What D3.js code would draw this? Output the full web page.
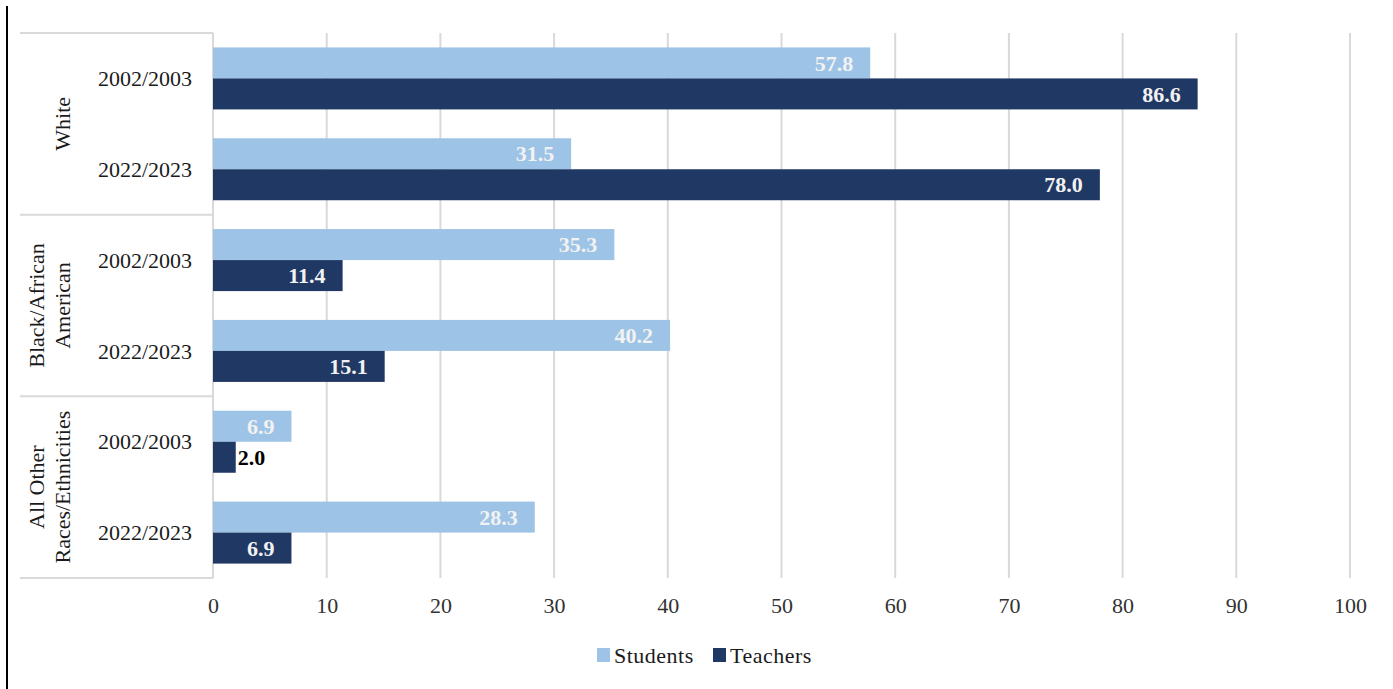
<!DOCTYPE html>
<html>
<head>
<meta charset="utf-8">
<script src="https://cdn.jsdelivr.net/npm/d3@7"></script>
<style>
  html, body { margin: 0; padding: 0; background: #fff; }
  svg { display: block; font-family: "Liberation Serif", "Times New Roman", serif; }
</style>
</head>
<body>
<svg id="chart" width="1393" height="689"></svg>
<script>
// Share of students and teachers by race/ethnicity, two school years
const groups = ["White", "Black/African American", "All Other Races/Ethnicities"];
const groupLines = [["White"], ["Black/African", "American"], ["All Other", "Races/Ethnicities"]];
const years = ["2002/2003", "2022/2023"];
const series = ["Students", "Teachers"];
const students = [57.8, 31.5, 35.3, 40.2, 6.9, 28.3];
const teachers = [86.6, 78.0, 11.4, 15.1, 2.0, 6.9];
const xTicks = [0, 10, 20, 30, 40, 50, 60, 70, 80, 90, 100];

const colors = { Students: "#9dc3e6", Teachers: "#203864" };
const serifFont = "'Liberation Serif', 'Times New Roman', serif";

const svg = d3.select("#chart");
const plotLeft = 213, plotRight = 1350, plotTop = 33, plotBottom = 578, boxLeft = 20;

const x = d3.scaleLinear().domain([0, 100]).range([plotLeft, plotRight]);

// rows: one per group/year pair
const rows = [];
groups.forEach((g, gi) => years.forEach((yr, yi) => {
  const i = gi * years.length + yi;
  rows.push({ id: g + "|" + yr, group: g, gi, year: yr, Students: students[i], Teachers: teachers[i] });
}));

const yRow = d3.scaleBand().domain(rows.map(r => r.id)).range([plotTop, plotBottom]);
const yGroup = d3.scaleBand().domain(groups).range([plotTop, plotBottom]);
const ySeries = d3.scaleBand().domain(series).range([0, yRow.bandwidth()]).paddingInner(0).paddingOuter(0.465);

// vertical gridlines
svg.append("g").selectAll("line").data(xTicks).join("line")
  .attr("x1", d => x(d)).attr("x2", d => x(d))
  .attr("y1", plotTop).attr("y2", plotBottom)
  .attr("stroke", "#d9d9d9").attr("stroke-width", 2);

// category box separators
const seps = [plotTop].concat(groups.map(g => yGroup(g) + yGroup.bandwidth()));
svg.append("g").selectAll("line").data(seps).join("line")
  .attr("x1", boxLeft).attr("x2", plotLeft)
  .attr("y1", d => d).attr("y2", d => d)
  .attr("stroke", "#d9d9d9").attr("stroke-width", 2);

// bars with value labels
const barG = svg.append("g");
rows.forEach(r => {
  series.forEach(s => {
    const y0 = yRow(r.id) + ySeries(s);
    const v = r[s];
    barG.append("rect")
      .attr("x", x(0)).attr("y", y0)
      .attr("width", x(v) - x(0)).attr("height", ySeries.bandwidth())
      .attr("fill", colors[s]);
    const inside = x(v) - x(0) > 50;
    barG.append("text")
      .attr("x", inside ? x(v) - 17 : x(v) + 2)
      .attr("y", y0 + ySeries.bandwidth() / 2)
      .attr("dy", "0.35em")
      .attr("text-anchor", inside ? "end" : "start")
      .style("font-family", serifFont)
      .attr("font-size", 22).attr("font-weight", "bold")
      .attr("fill", inside ? "#f2f2f2" : "#000")
      .text(v.toFixed(1));
  });
});

// year labels
svg.append("g").selectAll("text").data(rows).join("text")
  .attr("x", 192)
  .attr("y", r => yRow(r.id) + yRow.bandwidth() / 2)
  .attr("dy", "0.35em")
  .attr("text-anchor", "end")
  .style("font-family", serifFont)
  .attr("font-size", 22).attr("fill", "#1a1a1a")
  .text(r => r.year);

// group labels, rotated
groups.forEach((g, gi) => {
  const lines = groupLines[gi];
  const cy = yGroup(g) + yGroup.bandwidth() / 2;
  lines.forEach((ln, li) => {
    const cx = 62 - (lines.length - 1 - li) * 26;
    svg.append("text")
      .attr("transform", `translate(${cx},${cy}) rotate(-90)`)
      .attr("text-anchor", "middle").attr("dy", "0.35em")
      .style("font-family", serifFont)
      .attr("font-size", 22).attr("fill", "#1a1a1a")
      .text(ln);
  });
});

// x axis tick labels
const xAxis = d3.axisBottom(x).tickValues(xTicks).tickSize(0).tickPadding(0);
const axG = svg.append("g").attr("transform", `translate(0,${plotBottom})`).call(xAxis);
axG.select(".domain").remove();
axG.selectAll("text")
  .attr("y", 35).attr("dy", 0)
  .style("font-family", serifFont)
  .attr("font-size", 22).attr("fill", "#333");

// legend
const legend = [
  { key: "Students", sx: 597, tx: 614 },
  { key: "Teachers", sx: 713, tx: 730 }
];
const lg = svg.append("g");
legend.forEach(l => {
  lg.append("rect").attr("x", l.sx).attr("y", 648).attr("width", 13).attr("height", 14).attr("fill", colors[l.key]);
  lg.append("text").attr("x", l.tx).attr("y", 663)
    .style("font-family", serifFont)
    .attr("font-size", 22).attr("fill", "#1a1a1a").attr("letter-spacing", 0.5)
    .text(l.key);
});

// left frame edge
svg.append("line").attr("x1", 7).attr("x2", 7).attr("y1", 6).attr("y2", 689)
  .attr("stroke", "#000").attr("stroke-width", 2);
</script>
</body>
</html>
